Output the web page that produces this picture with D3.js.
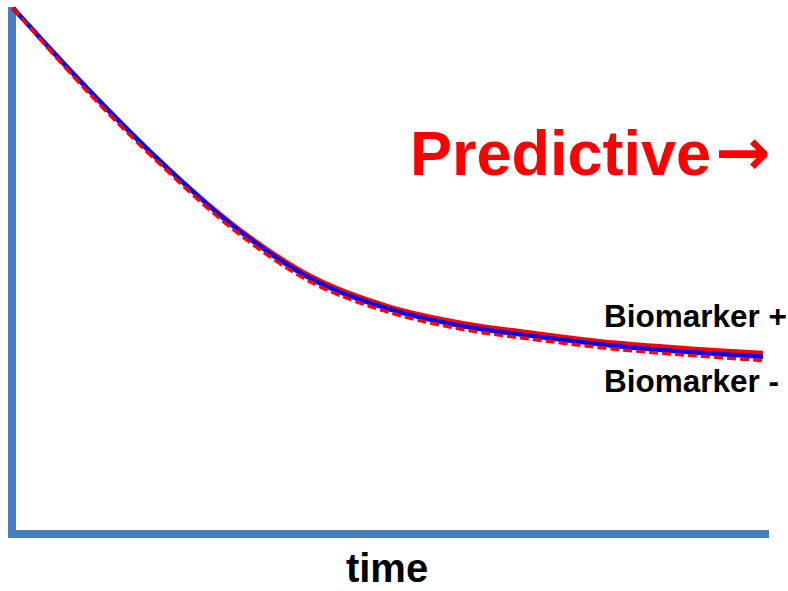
<!DOCTYPE html>
<html><head><meta charset="utf-8">
<script src="https://cdn.jsdelivr.net/npm/d3@7"></script>
<style>body{margin:0;background:#fff}svg{display:block}</style>
</head><body>
<script>
const time = [0,10,20,30,40,50,60,70,80,90,100];
const biomarkerPos = [99.8,84.3,70.1,57.9,48.6,43.1,39.9,37.9,36.2,35.1,34.2];
const biomarkerNeg = [99.8,84.4,70.2,57.6,48.1,42.6,39.3,37.3,35.6,34.4,33.5];
const biomarkerNegDashed = [99.8,83.8,69.6,57.0,47.5,42.0,38.7,36.7,35.0,33.8,32.8];
const labels = {title:"Predictive", arrow:"→", pos:"Biomarker +", neg:"Biomarker -", xTitle:"time"};

const W=788,H=591;
const svg=d3.select("body").append("svg").attr("width",W).attr("height",H);
const x=d3.scaleLinear().domain([0,100]).range([13,763]);
const y=d3.scaleLinear().domain([0,100]).range([533,7]);
const axisColor="#4a7ebb";

svg.append("line").attr("x1",12).attr("x2",12).attr("y1",7).attr("y2",538)
  .attr("stroke",axisColor).attr("stroke-width",8);
svg.append("line").attr("x1",8).attr("x2",769).attr("y1",534).attr("y2",534)
  .attr("stroke",axisColor).attr("stroke-width",8);

const line=vals=>d3.line().x((d,i)=>x(time[i])).y(d=>y(d)).curve(d3.curveCatmullRom.alpha(0.5))(vals);
svg.append("path").attr("d",line(biomarkerPos)).attr("fill","none").attr("stroke","#ff0000").attr("stroke-width",4.5);
svg.append("path").attr("d",line(biomarkerNeg)).attr("fill","none").attr("stroke","#0000ff").attr("stroke-width",4.5);
svg.append("path").attr("d",line(biomarkerNegDashed)).attr("fill","none").attr("stroke","#ff0000").attr("stroke-width",3.5).attr("stroke-dasharray","9,4");

const font="'Liberation Sans', Arial, sans-serif";
const t=svg.append("text").attr("x",410).attr("y",175).attr("font-family",font).attr("font-weight","bold")
  .attr("font-size",63).attr("fill","#ff0000");
t.append("tspan").text(labels.title);
t.append("tspan").attr("font-family","'DejaVu Sans', sans-serif").attr("font-size",66).attr("dx",4).text(labels.arrow);
svg.append("text").attr("x",604).attr("y",327).attr("font-family",font).attr("font-weight","bold")
  .attr("font-size",31.5).attr("fill","#000").text(labels.pos);
svg.append("text").attr("x",604).attr("y",392).attr("font-family",font).attr("font-weight","bold")
  .attr("font-size",31.5).attr("fill","#000").text(labels.neg);
svg.append("text").attr("x",387).attr("y",582).attr("text-anchor","middle").attr("font-family",font).attr("font-weight","bold")
  .attr("font-size",40).attr("fill","#000").text(labels.xTitle);
</script>
</body></html>
